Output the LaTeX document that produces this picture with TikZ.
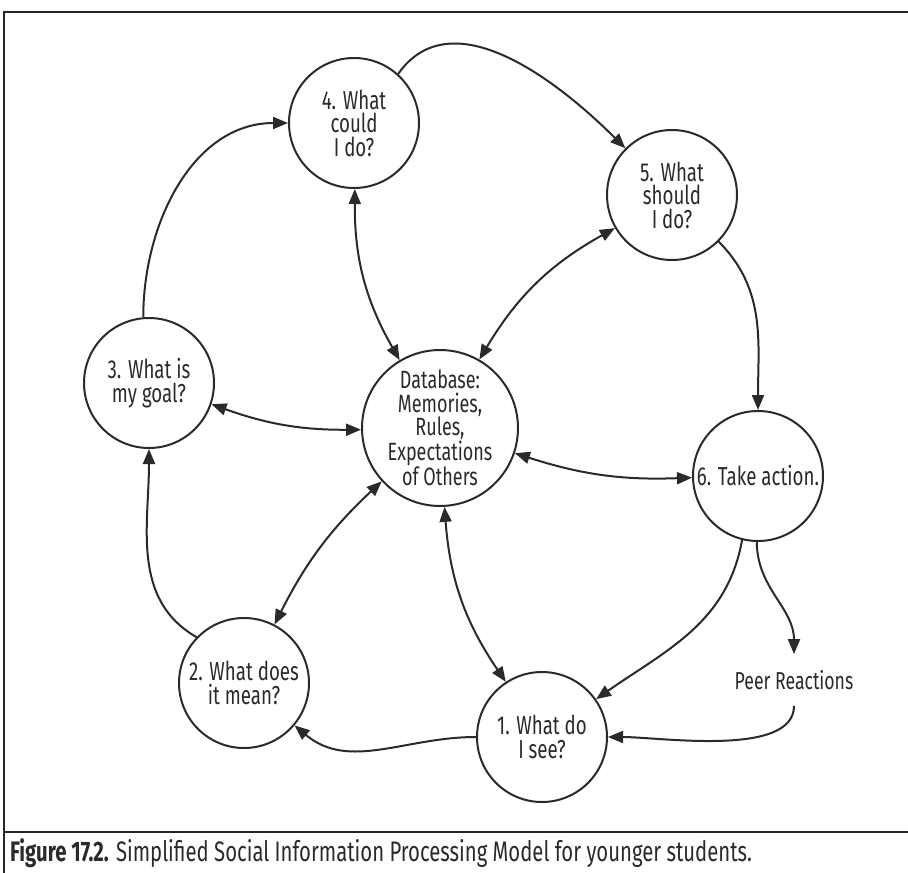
\documentclass[tikz,border=0pt]{standalone}
\usepackage{fontspec}
\setmainfont{Fira Sans}[FakeStretch=0.72]
\usetikzlibrary{arrows.meta}
\definecolor{ink}{HTML}{2A2A2A}
\tikzset{
  stage/.style={circle,draw=ink,line width=2pt,minimum size=130pt,inner sep=0pt,
    align=center,text=ink,font=\fontsize{26}{23.5}\selectfont},
  hub/.style={stage,minimum size=152pt,font=\fontsize{25}{23.5}\selectfont},
  flow/.style={draw=ink,line width=2pt,-{Triangle[length=15pt,width=12pt]}},
  both/.style={flow,{Triangle[length=15pt,width=12pt]}-{Triangle[length=15pt,width=12pt]}},
  frame/.style={draw=black!85,line width=2.5pt},
}
\begin{document}
\begin{tikzpicture}[x=1pt,y=1pt]
            \useasboundingbox (0,0) rectangle (908,-873);
            % frame and caption
            \coordinate (tl) at (4,-12);
            \coordinate (tr) at (908,-12);
            \coordinate (bl) at (4,-873);
            \coordinate (sl) at (4,-832);
            \coordinate (sr) at (908,-832);
            \draw[frame] (bl) -- (tl) -- (tr);
            \draw[frame] (sl) -- (sr);
            \node[anchor=base west,inner sep=0pt,text=ink,font=\fontsize{28.2}{32}\selectfont] (cap) at (10,-861)
              {\textbf{Figure 17.2.} Simplified Social Information Processing Model for younger students.};
            % stages
            \node[stage] (4) at (354,-123) {4. What\\could\\I do?};
            \node[stage] (5) at (672,-195) {5. What\\should\\I do?};
            \node[stage] (3) at (149,-383) {3. What is\\my goal?};
            \node[hub] (db) at (440,-428) {Database:\\Memories,\\Rules,\\Expectations\\of Others};
            \node[stage] (6) at (758,-476) {6. Take action.};
            \node[stage] (2) at (244,-683) {2. What does\\it mean?};
            \node[stage] (1) at (542,-737) {1. What do\\I see?};
            \node[text=ink,font=\fontsize{24.5}{23}\selectfont,inner xsep=4pt,inner ysep=16pt] (peer) at (794,-680) {Peer Reactions};
            % cycle
            \draw[flow] (4.48) to[out=55,in=135] (5);
            \draw[flow] (5) to[out=-45,in=90] (6);
            \draw[flow] (6.-104) to[out=-100,in=35] (1);
            \draw[flow] (6.-91) to[out=-90,in=90] (peer);
            \draw[flow] (peer) to[out=-90,in=0,looseness=0.7] (1);
            \draw[flow] (1) to[out=180,in=-40] (2);
            \draw[flow] (2.136) to[out=150,in=-90] (3);
            \draw[flow] (3.95) to[out=90,in=180] (4);
            % database links
            \draw[both] (4) to[bend right=15] (db);
            \draw[both] (db) to[bend left=15] (5);
            \draw[both] (3) to[bend right=10] (db);
            \draw[both] (db) to[bend right=10] (6);
            \draw[both] (2) to[bend left=10] (db);
            \draw[both] (db) to[bend right=15] (1);
        \end{tikzpicture}
\end{document}
